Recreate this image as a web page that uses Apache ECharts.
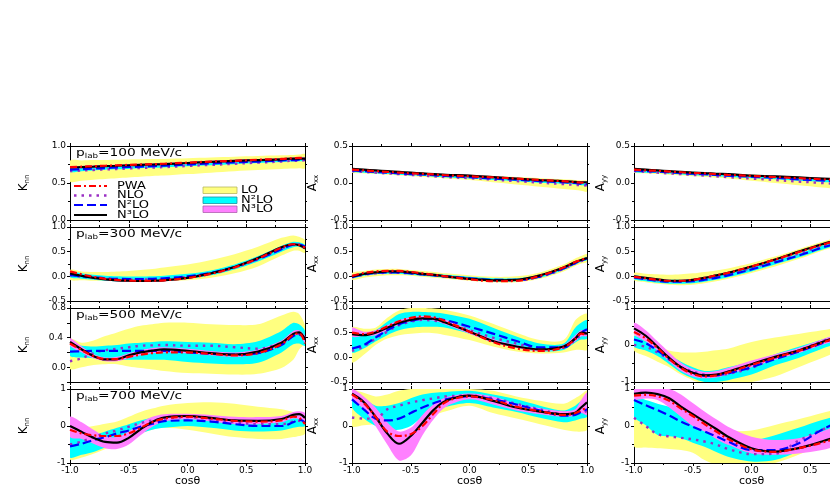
<!DOCTYPE html>
<html>
<head>
<meta charset="utf-8">
<script src="https://cdn.jsdelivr.net/npm/echarts@6/dist/echarts.min.js"></script>
<style>
  html, body { margin: 0; background: #fff; }
  #chart { width: 830px; height: 485px; }
</style>
</head>
<body>
<div id="chart"></div>
<script>
// cos(theta) sample points, shared by every curve
const X = [-1, -0.9, -0.8, -0.7, -0.6, -0.5, -0.4, -0.3, -0.2, 0, 0.2, 0.4, 0.6, 0.8, 0.9, 0.95, 1];
const momenta = ['100', '300', '500', '700'];

// ---- K_nn ----
const k100_pwa  = [.715,.72,.727,.733,.74,.745,.75,.755,.76,.775,.79,.80,.815,.825,.835,.84,.84];
const k100_nlo  = [.66,.668,.676,.684,.69,.697,.703,.709,.715,.73,.745,.76,.775,.79,.80,.80,.81];
const k100_n2lo = [.68,.688,.695,.702,.71,.716,.722,.728,.735,.75,.765,.78,.79,.805,.81,.815,.82];
const k100_n3lo = [.71,.715,.72,.727,.733,.74,.745,.75,.755,.77,.785,.80,.81,.82,.83,.83,.83];
const k100_loMin = [.52,.53,.545,.555,.565,.575,.585,.595,.60,.62,.64,.66,.675,.69,.695,.70,.70];
const k100_loMax = [.80,.805,.81,.812,.815,.818,.82,.823,.826,.835,.845,.855,.865,.875,.88,.885,.89];
const k100_n2Min = [.65,.66,.67,.68,.685,.69,.70,.705,.71,.725,.74,.755,.77,.785,.79,.795,.80];
const k100_n2Max = [.72,.725,.73,.735,.74,.745,.75,.755,.76,.775,.79,.80,.815,.825,.83,.835,.84];
const k100_n3Min = [.695,.70,.705,.712,.718,.725,.73,.735,.74,.755,.77,.785,.795,.805,.815,.815,.815];
const k100_n3Max = [.725,.73,.735,.742,.748,.755,.76,.765,.77,.785,.80,.815,.825,.835,.845,.845,.845];

const k300_pwa  = [.10,.04,-.01,-.05,-.07,-.085,-.09,-.09,-.08,-.035,.05,.18,.36,.58,.65,.64,.58];
const k300_nlo  = [.02,-.01,-.03,-.05,-.06,-.065,-.065,-.06,-.05,-.01,.06,.18,.35,.56,.64,.64,.59];
const k300_n2lo = [.03,0,-.02,-.04,-.05,-.055,-.055,-.05,-.04,0,.07,.19,.35,.55,.64,.645,.60];
const k300_n3lo = [.06,.01,-.03,-.06,-.08,-.09,-.095,-.09,-.08,-.03,.06,.19,.37,.59,.65,.63,.57];
const k300_loMin = [-.07,-.08,-.09,-.09,-.095,-.1,-.1,-.1,-.095,-.08,-.03,.06,.20,.42,.52,.52,.48];
const k300_loMax = [.13,.10,.09,.09,.10,.11,.13,.15,.18,.24,.33,.45,.60,.78,.83,.80,.73];
const k300_n2Min = [-.02,-.05,-.07,-.09,-.10,-.105,-.105,-.10,-.09,-.05,.02,.14,.30,.50,.59,.60,.55];
const k300_n2Max = [.10,.06,.03,.01,0,-.005,-.005,0,.01,.05,.12,.24,.41,.62,.70,.69,.64];
const k300_n3Min = [.04,-.01,-.05,-.08,-.10,-.11,-.115,-.11,-.10,-.05,.04,.17,.35,.57,.63,.61,.55];
const k300_n3Max = [.08,.03,-.01,-.04,-.06,-.07,-.075,-.07,-.06,-.01,.08,.21,.39,.61,.67,.65,.59];

const k500_pwa  = [.32,.23,.15,.11,.11,.14,.17,.19,.20,.20,.18,.16,.19,.31,.44,.46,.32];
const k500_nlo  = [.08,.12,.19,.23,.25,.27,.29,.295,.30,.29,.29,.27,.25,.33,.42,.45,.40];
const k500_n2lo = [.21,.215,.22,.22,.22,.22,.22,.22,.22,.20,.18,.17,.19,.30,.42,.44,.38];
const k500_n3lo = [.34,.24,.15,.105,.11,.16,.20,.225,.24,.22,.19,.17,.21,.33,.45,.47,.37];
const k500_loMin = [-.02,0,.03,.04,.04,.01,-.01,-.03,-.05,-.08,-.09,-.10,-.09,-.01,.10,.24,.33];
const k500_loMax = [.38,.33,.36,.42,.47,.52,.56,.58,.60,.60,.58,.57,.58,.70,.75,.72,.56];
const k500_n2Min = [.15,.13,.12,.11,.10,.10,.10,.10,.10,.07,.05,.04,.06,.20,.31,.32,.29];
const k500_n2Max = [.31,.29,.28,.29,.30,.32,.33,.34,.35,.34,.33,.31,.35,.49,.60,.58,.49];
const k500_n3Min = [.29,.20,.12,.08,.08,.12,.16,.19,.20,.19,.16,.14,.18,.30,.42,.44,.33];
const k500_n3Max = [.39,.28,.18,.13,.14,.19,.23,.26,.27,.25,.22,.20,.24,.36,.49,.50,.42];

const k700_pwa  = [-.1,-.2,-.25,-.27,-.27,-.2,-.05,.1,.2,.25,.2,.14,.12,.15,.25,.22,.05];
const k700_nlo  = [-.5,-.42,-.3,-.2,-.12,-.02,.08,.15,.2,.24,.18,.1,.05,.05,.12,.14,.1];
const k700_n2lo = [-.55,-.48,-.38,-.3,-.2,-.12,-.02,.06,.13,.15,.12,.05,0,0,.1,.17,.1];
const k700_n3lo = [0,-.16,-.32,-.43,-.45,-.32,-.09,.11,.23,.27,.22,.15,.14,.19,.3,.32,.22];
const k700_loMin = [-.9,-.85,-.75,-.62,-.5,-.35,-.2,-.1,-.05,-.1,-.2,-.3,-.35,-.35,-.3,-.27,-.2];
const k700_loMax = [-.05,-.05,0,.06,.12,.25,.38,.47,.55,.62,.64,.6,.52,.45,.38,.35,.3];
const k700_n2Min = [-.85,-.78,-.7,-.58,-.45,-.32,-.2,-.1,-.05,0,-.05,-.12,-.15,-.12,-.05,-.02,0];
const k700_n2Max = [-.3,-.28,-.25,-.15,-.05,.05,.15,.23,.3,.3,.28,.22,.2,.25,.35,.35,.3];
const k700_n3Min = [-.3,-.35,-.48,-.6,-.62,-.5,-.25,-.02,.12,.18,.12,.05,.05,.1,.2,.18,.05];
const k700_n3Max = [.25,.1,-.1,-.28,-.3,-.15,.08,.25,.32,.33,.3,.25,.24,.27,.38,.4,.35];

// ---- A_xx ----
const x100_pwa  = [.18,.17,.16,.15,.14,.13,.125,.115,.105,.09,.075,.06,.04,.025,.01,.005,0];
const x100_nlo  = [.16,.15,.14,.13,.12,.11,.10,.09,.08,.065,.045,.025,.005,-.015,-.025,-.03,-.035];
const x100_n2lo = [.17,.16,.15,.14,.13,.12,.115,.105,.095,.08,.06,.045,.025,.01,0,-.01,-.015];
const x100_n3lo = [.19,.18,.17,.16,.15,.14,.13,.12,.11,.10,.08,.06,.04,.025,.015,.01,.01];
const x100_loMin = [.14,.13,.12,.11,.10,.09,.08,.07,.06,.04,.01,-.02,-.05,-.08,-.095,-.105,-.115];
const x100_loMax = [.20,.19,.18,.17,.16,.15,.14,.13,.12,.11,.095,.08,.065,.05,.04,.035,.03];
const x100_n2Min = [.15,.14,.13,.12,.11,.10,.095,.085,.075,.06,.04,.025,.005,-.01,-.02,-.03,-.035];
const x100_n2Max = [.19,.18,.17,.16,.15,.14,.135,.125,.115,.10,.08,.065,.045,.03,.02,.01,.005];
const x100_n3Min = [.18,.17,.16,.15,.14,.13,.12,.11,.10,.09,.07,.05,.03,.015,.005,0,0];
const x100_n3Max = [.20,.19,.18,.17,.16,.15,.14,.13,.12,.11,.09,.07,.05,.035,.025,.02,.02];

const x300_pwa  = [.01,.07,.10,.11,.11,.09,.06,.03,0,-.06,-.10,-.09,.01,.18,.29,.33,.38];
const x300_nlo  = [-.02,.03,.06,.07,.07,.06,.04,.02,-.01,-.05,-.08,-.08,-.01,.15,.26,.31,.34];
const x300_n2lo = [-.01,.04,.07,.08,.08,.06,.04,.02,0,-.04,-.07,-.07,0,.16,.27,.32,.36];
const x300_n3lo = [0,.05,.08,.10,.10,.08,.05,.03,0,-.05,-.08,-.07,.02,.18,.29,.33,.37];
const x300_loMin = [-.07,-.03,0,.02,.02,.01,-.01,-.03,-.05,-.09,-.12,-.12,-.05,.10,.21,.26,.29];
const x300_loMax = [.07,.11,.14,.15,.15,.13,.11,.09,.06,.02,-.01,0,.08,.24,.36,.41,.45];
const x300_n2Min = [-.04,.01,.04,.05,.05,.03,.01,-.01,-.03,-.07,-.10,-.10,-.03,.13,.24,.29,.33];
const x300_n2Max = [.02,.07,.10,.11,.11,.09,.07,.05,.03,-.01,-.04,-.04,.03,.19,.30,.35,.39];
const x300_n3Min = [-.015,.035,.065,.085,.085,.065,.035,.015,-.015,-.065,-.095,-.085,.005,.165,.275,.315,.355];
const x300_n3Max = [.015,.065,.095,.115,.115,.095,.065,.045,.015,-.035,-.065,-.055,.035,.195,.305,.345,.385];

const x500_pwa  = [.50,.47,.52,.63,.73,.80,.83,.81,.73,.52,.31,.18,.13,.20,.37,.48,.45];
const x500_nlo  = [.13,.22,.38,.52,.65,.72,.76,.74,.70,.55,.40,.28,.18,.20,.35,.45,.50];
const x500_n2lo = [.18,.25,.40,.55,.67,.74,.78,.78,.75,.62,.48,.33,.20,.20,.38,.50,.57];
const x500_n3lo = [.47,.45,.50,.60,.70,.76,.79,.78,.70,.52,.33,.22,.16,.22,.38,.50,.48];
const x500_loMin = [-.1,.05,.25,.38,.45,.48,.50,.49,.45,.35,.22,.12,.08,.10,.15,.15,.15];
const x500_loMax = [.60,.58,.60,.80,.95,1.0,1.0,.99,.96,.85,.68,.50,.35,.35,.75,.85,.88];
const x500_n2Min = [.10,.18,.32,.45,.55,.60,.62,.62,.60,.48,.32,.20,.12,.15,.30,.36,.38];
const x500_n2Max = [.50,.50,.55,.72,.88,.92,.92,.91,.88,.78,.60,.42,.28,.28,.60,.70,.75];
const x500_n3Min = [.42,.43,.45,.55,.66,.72,.75,.74,.66,.48,.30,.19,.13,.18,.32,.42,.43];
const x500_n3Max = [.60,.52,.55,.65,.75,.81,.84,.82,.76,.56,.37,.25,.18,.25,.45,.55,.52];

const x700_pwa  = [.85,.62,.25,-.15,-.27,-.22,0,.35,.65,.8,.7,.52,.4,.3,.35,.42,.5];
const x700_nlo  = [.23,.2,.2,.45,.55,.63,.7,.75,.8,.82,.75,.6,.45,.32,.33,.36,.4];
const x700_n2lo = [.72,.45,.2,.15,.2,.35,.5,.62,.72,.8,.72,.58,.42,.28,.3,.38,.45];
const x700_n3lo = [.87,.65,.25,-.2,-.48,-.27,.09,.45,.68,.82,.68,.5,.39,.32,.36,.5,.64];
const x700_loMin = [0,.02,.05,.02,0,.08,.2,.3,.4,.55,.35,.2,.05,-.1,-.15,-.15,-.1];
const x700_loMax = [.95,.9,.8,.85,.95,1.0,1.0,1.0,1.0,1.0,.95,.8,.68,.6,.75,.85,.95];
const x700_n2Min = [.5,.2,0,-.1,-.1,0,.25,.42,.52,.62,.5,.38,.22,.1,.15,.2,.25];
const x700_n2Max = [.9,.75,.55,.55,.62,.75,.85,.9,.92,.95,.85,.72,.55,.42,.55,.68,.8];
const x700_n3Min = [.75,.45,0,-.5,-.93,-.8,-.25,.2,.52,.72,.58,.42,.32,.25,.28,.35,.3];
const x700_n3Max = [1.0,.8,.5,.1,-.15,-.05,.3,.6,.78,.88,.8,.6,.48,.4,.45,.7,.9];

// ---- A_yy ----
const y100_pwa  = [.18,.17,.165,.155,.145,.135,.13,.12,.11,.095,.08,.065,.05,.035,.03,.025,.02];
const y100_nlo  = [.16,.15,.14,.13,.12,.11,.10,.09,.08,.06,.04,.02,0,-.02,-.03,-.035,-.04];
const y100_n2lo = [.17,.16,.155,.145,.135,.125,.12,.11,.10,.085,.07,.05,.035,.02,.01,.005,0];
const y100_n3lo = [.19,.18,.17,.16,.15,.14,.135,.125,.12,.10,.09,.075,.06,.045,.04,.035,.03];
const y100_loMin = [.14,.13,.12,.11,.10,.09,.08,.07,.06,.03,0,-.03,-.06,-.09,-.105,-.11,-.12];
const y100_loMax = [.20,.19,.18,.17,.16,.15,.145,.135,.13,.115,.10,.085,.07,.055,.05,.045,.04];
const y100_n2Min = [.15,.14,.135,.125,.115,.105,.10,.09,.08,.065,.05,.03,.015,0,-.01,-.015,-.02];
const y100_n2Max = [.19,.18,.175,.165,.155,.145,.14,.13,.12,.105,.09,.07,.055,.04,.03,.025,.02];
const y100_n3Min = [.18,.17,.16,.15,.14,.13,.125,.115,.11,.09,.08,.065,.05,.035,.03,.025,.02];
const y100_n3Max = [.20,.19,.18,.17,.16,.15,.145,.135,.13,.11,.10,.085,.07,.055,.05,.045,.04];

const y300_pwa  = [-.01,-.04,-.07,-.09,-.09,-.07,-.03,.02,.07,.2,.34,.49,.64,.77,.83,.86,.89];
const y300_nlo  = [-.02,-.05,-.08,-.10,-.10,-.08,-.05,-.01,.04,.17,.31,.46,.62,.75,.81,.84,.87];
const y300_n2lo = [-.02,-.06,-.09,-.11,-.11,-.10,-.07,-.03,.02,.14,.28,.42,.58,.72,.79,.82,.85];
const y300_n3lo = [0,-.03,-.06,-.09,-.09,-.07,-.03,.02,.07,.2,.34,.5,.65,.78,.84,.87,.9];
const y300_loMin = [-.08,-.12,-.15,-.17,-.18,-.17,-.14,-.1,-.05,.07,.2,.35,.52,.66,.73,.76,.79];
const y300_loMax = [.07,.05,.04,.03,.04,.06,.09,.12,.16,.27,.4,.55,.7,.83,.89,.92,.95];
const y300_n2Min = [-.06,-.10,-.13,-.15,-.15,-.14,-.11,-.07,-.02,.10,.24,.38,.54,.68,.75,.78,.81];
const y300_n2Max = [.02,-.02,-.05,-.07,-.07,-.06,-.03,.01,.06,.18,.32,.46,.62,.76,.83,.86,.89];
const y300_n3Min = [-.015,-.045,-.075,-.105,-.105,-.085,-.045,.005,.055,.185,.325,.485,.635,.765,.825,.855,.885];
const y300_n3Max = [.015,-.015,-.045,-.075,-.075,-.055,-.015,.035,.085,.215,.355,.515,.665,.795,.855,.885,.915];

const y500_pwa  = [.35,.18,-.08,-.38,-.62,-.78,-.85,-.82,-.74,-.54,-.34,-.16,.06,.28,.38,.43,.48];
const y500_nlo  = [0,-.05,-.2,-.4,-.6,-.72,-.8,-.82,-.78,-.62,-.35,-.15,.1,.32,.42,.47,.52];
const y500_n2lo = [.15,.05,-.15,-.38,-.6,-.75,-.83,-.82,-.77,-.6,-.38,-.18,.05,.3,.42,.47,.52];
const y500_n3lo = [.45,.25,-.05,-.35,-.6,-.75,-.82,-.8,-.72,-.52,-.32,-.15,.08,.3,.4,.45,.5];
const y500_loMin = [-.15,-.3,-.45,-.6,-.8,-.95,-1.05,-1.08,-1.1,-1.0,-.85,-.6,-.35,-.1,0,.05,.1];
const y500_loMax = [.3,.2,0,-.15,-.2,-.2,-.18,-.14,-.1,.08,.2,.3,.4,.5,.55,.58,.6];
const y500_n2Min = [-.05,-.15,-.3,-.52,-.75,-.9,-1.0,-1.0,-.95,-.8,-.55,-.35,-.1,.1,.2,.25,.3];
const y500_n2Max = [.25,.1,-.1,-.28,-.45,-.6,-.7,-.68,-.6,-.45,-.25,-.05,.15,.35,.45,.48,.5];
const y500_n3Min = [.3,.1,-.15,-.45,-.7,-.85,-.9,-.88,-.8,-.6,-.4,-.22,0,.2,.3,.35,.4];
const y500_n3Max = [.6,.4,.1,-.2,-.48,-.65,-.73,-.7,-.62,-.42,-.25,-.08,.15,.35,.45,.5,.55];

const y700_pwa  = [.82,.84,.8,.68,.47,.27,.05,-.15,-.35,-.63,-.7,-.6,-.45,-.25,-.1,-.05,0];
const y700_nlo  = [.22,0,-.22,-.28,-.32,-.36,-.42,-.5,-.62,-.76,-.75,-.4,-.1,.15,.28,.33,.38];
const y700_n2lo = [.7,.56,.43,.28,.12,-.02,-.15,-.28,-.42,-.65,-.65,-.47,-.1,.2,.32,.37,.42];
const y700_n3lo = [.87,.9,.86,.75,.52,.32,.12,-.08,-.29,-.6,-.69,-.6,-.42,-.2,-.05,0,.05];
const y700_loMin = [-.55,-.58,-.6,-.62,-.65,-.72,-.92,-1.05,-1.1,-1.1,-1.0,-.78,-.51,-.25,-.12,-.06,0];
const y700_loMax = [.3,.15,0,-.05,-.1,-.15,-.18,-.2,-.15,-.12,.03,.18,.35,.5,.56,.59,.62];
const y700_n2Min = [.25,.02,-.24,-.28,-.33,-.45,-.56,-.7,-.83,-.96,-.92,-.69,-.42,-.15,0,.05,.1];
const y700_n2Max = [.78,.7,.6,.52,.45,.35,.2,0,-.18,-.38,-.25,-.05,.16,.35,.45,.5,.55];
const y700_n3Min = [.72,.74,.7,.5,.25,0,-.15,-.35,-.51,-.74,-.78,-.74,-.65,-.45,-.3,-.25,-.2];
const y700_n3Max = [1.0,1.0,1.0,1.0,.85,.62,.39,.18,-.02,-.29,-.38,-.33,-.15,.1,.25,.3,.35];

// panel table: [row, col, yMin, yMax, interval, lines, bands]
const panels = [
  [0, 0, 0, 1, 0.5, [k100_pwa, k100_nlo, k100_n2lo, k100_n3lo], [[k100_loMin, k100_loMax], [k100_n2Min, k100_n2Max], [k100_n3Min, k100_n3Max]]],
  [0, 1, -0.5, 0.5, 0.5, [x100_pwa, x100_nlo, x100_n2lo, x100_n3lo], [[x100_loMin, x100_loMax], [x100_n2Min, x100_n2Max], [x100_n3Min, x100_n3Max]]],
  [0, 2, -0.5, 0.5, 0.5, [y100_pwa, y100_nlo, y100_n2lo, y100_n3lo], [[y100_loMin, y100_loMax], [y100_n2Min, y100_n2Max], [y100_n3Min, y100_n3Max]]],
  [1, 0, -0.5, 1, 0.5, [k300_pwa, k300_nlo, k300_n2lo, k300_n3lo], [[k300_loMin, k300_loMax], [k300_n2Min, k300_n2Max], [k300_n3Min, k300_n3Max]]],
  [1, 1, -0.5, 1, 0.5, [x300_pwa, x300_nlo, x300_n2lo, x300_n3lo], [[x300_loMin, x300_loMax], [x300_n2Min, x300_n2Max], [x300_n3Min, x300_n3Max]]],
  [1, 2, -0.5, 1, 0.5, [y300_pwa, y300_nlo, y300_n2lo, y300_n3lo], [[y300_loMin, y300_loMax], [y300_n2Min, y300_n2Max], [y300_n3Min, y300_n3Max]]],
  [2, 0, -0.2, 0.8, 0.2, [k500_pwa, k500_nlo, k500_n2lo, k500_n3lo], [[k500_loMin, k500_loMax], [k500_n2Min, k500_n2Max], [k500_n3Min, k500_n3Max]]],
  [2, 1, -0.5, 1, 0.5, [x500_pwa, x500_nlo, x500_n2lo, x500_n3lo], [[x500_loMin, x500_loMax], [x500_n2Min, x500_n2Max], [x500_n3Min, x500_n3Max]]],
  [2, 2, -1, 1, 1, [y500_pwa, y500_nlo, y500_n2lo, y500_n3lo], [[y500_loMin, y500_loMax], [y500_n2Min, y500_n2Max], [y500_n3Min, y500_n3Max]]],
  [3, 0, -1, 1, 1, [k700_pwa, k700_nlo, k700_n2lo, k700_n3lo], [[k700_loMin, k700_loMax], [k700_n2Min, k700_n2Max], [k700_n3Min, k700_n3Max]]],
  [3, 1, -1, 1, 1, [x700_pwa, x700_nlo, x700_n2lo, x700_n3lo], [[x700_loMin, x700_loMax], [x700_n2Min, x700_n2Max], [x700_n3Min, x700_n3Max]]],
  [3, 2, -1, 1, 1, [y700_pwa, y700_nlo, y700_n2lo, y700_n3lo], [[y700_loMin, y700_loMax], [y700_n2Min, y700_n2Max], [y700_n3Min, y700_n3Max]]]
];
// the 500 MeV/c K_nn panel: axis labels drawn by the axis, and the middle one placed from its scale
const k500_axisLabels = [0, 0.8];
const k500_midLabel = 0.4;
const K500_PANEL = 6;

const colLeft = [70, 352, 634];
const nameX = [24, 313, 601];
const rowTop = [146, 227, 308, 389];
const PW = 235, PH = 74;
const FONT = 'DejaVu Sans';
const yNames = [['K', 'nn'], ['A', 'xx'], ['A', 'yy']];
const bandColors = ['#ffff80', '#00ffff', '#ff80ff'];
const lineStyles = [
  {color: '#ff0000', width: 2.2, type: [7, 3, 2, 3]},   // PWA
  {color: '#9a2fc4', width: 2.4, type: [2.5, 5]},       // NLO
  {color: '#0000ff', width: 2.2, type: [9, 4]},         // N2LO
  {color: '#000000', width: 2.2, type: 'solid'}         // N3LO
];
const drawOrder = [1, 2, 3, 0];

function pts(vals) {
  return X.map((x, i) => [x, vals[i]]);
}

// a filled band between two curves, drawn as one smoothed polygon
function renderBand(params, api) {
  if (params.dataIndexInside !== 0) return null;
  const n = params.dataInsideLength;
  const top = [], bottom = [];
  for (let i = 0; i < n; i++) {
    top.push(api.coord([api.value(0, i), api.value(2, i)]));
    bottom.push(api.coord([api.value(0, i), api.value(1, i)]));
  }
  const cs = params.coordSys;
  return {
    type: 'group',
    clipPath: {type: 'rect', shape: {x: cs.x, y: cs.y, width: cs.width, height: cs.height}},
    children: [{
      type: 'polygon',
      shape: {points: top.concat(bottom.reverse()), smooth: 0.3},
      style: {fill: api.visual('color'), stroke: null}
    }]
  };
}

const grid = [], xAxis = [], yAxis = [], series = [], graphic = [];
const tick = {lineStyle: {color: '#000', width: 1}, length: 3};
const minor = {show: true, splitNumber: 2, length: 2, lineStyle: {color: '#000', width: 1}};
const axLine = {onZero: false, lineStyle: {color: '#000', width: 1}};
const subRich = (size) => ({
  b: {fontSize: size, fontFamily: FONT, fill: '#000', lineHeight: 14, verticalAlign: 'middle'},
  s: {fontSize: 7, fontFamily: FONT, fill: '#000', lineHeight: 14, verticalAlign: 'bottom'}
});

panels.forEach(([row, col, yMin, yMax, iv, lines, bands], p) => {
  grid.push({left: colLeft[col], top: rowTop[row], width: PW, height: PH, outerBoundsMode: 'none'});
  xAxis.push({
    gridIndex: p, type: 'value', min: -1, max: 1, interval: 0.5,
    axisLine: axLine, axisTick: tick, minorTick: minor, splitLine: {show: false},
    axisLabel: {show: row === 3, formatter: v => v.toFixed(1), fontSize: 9, fontFamily: FONT, color: '#000', margin: 3},
    name: row === 3 ? 'cos\u03b8' : '', nameLocation: 'middle', nameGap: 13,
    nameTextStyle: {fontSize: 11, fontFamily: FONT, color: '#000', verticalAlign: 'top'}
  });
  const yLab = {fontSize: 9, fontFamily: FONT, color: '#000', margin: 4, hideOverlap: false,
    formatter: v => iv === 1 ? String(Math.round(v)) : v.toFixed(1)};
  if (p === K500_PANEL) yLab.customValues = k500_axisLabels;
  yAxis.push({
    gridIndex: p, type: 'value', min: yMin, max: yMax, interval: iv,
    axisLine: axLine, axisTick: tick,
    minorTick: Object.assign({}, minor, {show: iv !== 0.2}), splitLine: {show: false},
    axisLabel: yLab
  });

  // y-axis title, rotated, with subscript
  graphic.push({
    type: 'text', z: 100, x: nameX[col], y: rowTop[row] + PH / 2, rotation: Math.PI / 2,
    style: {text: '{b|' + yNames[col][0] + '}{s|' + yNames[col][1] + '}', rich: subRich(12),
      align: 'center', verticalAlign: 'middle'}
  });

  bands.forEach(([lo, hi], b) => {
    series.push({
      type: 'custom', xAxisIndex: p, yAxisIndex: p, z: 2, silent: true,
      itemStyle: {color: bandColors[b]},
      data: X.map((x, i) => [x, lo[i], hi[i]]),
      encode: {x: 0, y: [1, 2]},
      renderItem: renderBand
    });
  });
  drawOrder.forEach(k => {
    series.push({
      type: 'line', xAxisIndex: p, yAxisIndex: p, data: pts(lines[k]),
      smooth: 0.35, symbol: 'none', silent: true, z: 3, lineStyle: lineStyles[k]
    });
  });

  if (col === 0) {
    graphic.push({
      type: 'text', x: colLeft[0] + 6, y: rowTop[row] + 7, z: 100, scaleX: 1.25,
      style: {
        text: '{b|p}{s|lab}{b|=' + momenta[row] + ' MeV/c}',
        rich: subRich(11), verticalAlign: 'middle'
      }
    });
  }
});

// mirror axes on the top and right of every panel
panels.forEach(([row, col, yMin, yMax, iv], p) => {
  xAxis.push({gridIndex: p, type: 'value', position: 'top', min: -1, max: 1, interval: 0.5,
    axisLine: axLine, axisTick: tick, minorTick: minor, axisLabel: {show: false}, splitLine: {show: false}});
  yAxis.push({gridIndex: p, type: 'value', position: 'right', min: yMin, max: yMax, interval: iv,
    axisLine: axLine, axisTick: tick, minorTick: Object.assign({}, minor, {show: iv !== 0.2}),
    axisLabel: {show: false}, splitLine: {show: false}});
});

// legend inside the first panel
const legendLines = [['PWA', 0, 186], ['NLO', 1, 195.5], ['N\u00b2LO', 2, 205], ['N\u00b3LO', 3, 215]];
legendLines.forEach(([label, k, y]) => {
  const ls = lineStyles[k];
  graphic.push({type: 'line', z: 100, shape: {x1: 74, y1: y, x2: 107, y2: y},
    style: {stroke: ls.color, lineWidth: ls.width, lineDash: ls.type === 'solid' ? null : ls.type}});
  graphic.push({type: 'text', z: 100, x: 117, y: y, scaleX: 1.3,
    style: {text: label, fontSize: 10, fontFamily: FONT, fill: '#000', verticalAlign: 'middle'}});
});
const legendBands = [['LO', 0, 187], ['N\u00b2LO', 1, 197], ['N\u00b3LO', 2, 206]];
const bandEdges = ['#b8b860', '#2090a0', '#b060b0'];
legendBands.forEach(([label, b, y]) => {
  graphic.push({type: 'rect', z: 100, shape: {x: 203, y: y, width: 34, height: 6.5},
    style: {fill: bandColors[b], stroke: bandEdges[b], lineWidth: 0.8}});
  graphic.push({type: 'text', z: 100, x: 241, y: y + 3.3, scaleX: 1.3,
    style: {text: label, fontSize: 10, fontFamily: FONT, fill: '#000', verticalAlign: 'middle'}});
});

const chart = echarts.init(document.getElementById('chart'));
chart.setOption({
  animation: false,
  backgroundColor: '#fff',
  grid: grid,
  xAxis: xAxis,
  yAxis: yAxis,
  series: series,
  graphic: graphic
});

// middle tick label of the K_nn 500 MeV/c panel, positioned through that panel's own scale
const at = chart.convertToPixel({xAxisIndex: K500_PANEL, yAxisIndex: K500_PANEL}, [-1, k500_midLabel]);
graphic.push({
  type: 'text', z: 100, x: at[0] - 7, y: at[1],
  style: {text: k500_midLabel.toFixed(1), fontSize: 9, fontFamily: FONT, fill: '#000',
    align: 'right', verticalAlign: 'middle'}
});
chart.setOption({graphic: graphic});
</script>
</body>
</html>
